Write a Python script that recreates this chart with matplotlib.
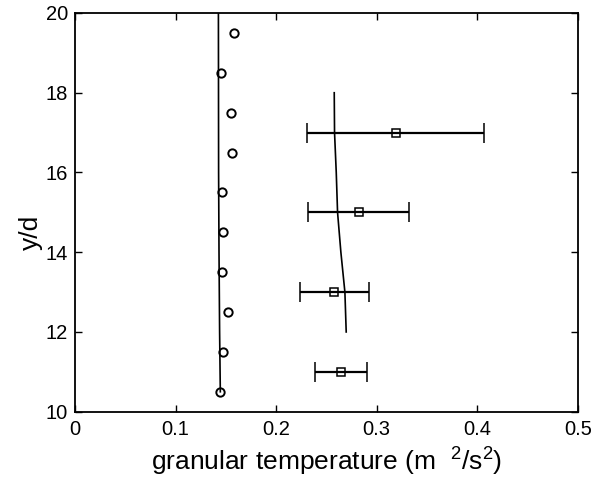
import matplotlib
matplotlib.use("Agg")
import matplotlib.pyplot as plt

plt.rcParams['font.family'] = ['Liberation Sans', 'DejaVu Sans']
plt.rcParams['mathtext.fontset'] = 'custom'
plt.rcParams['mathtext.rm'] = 'Liberation Sans'
plt.rcParams['mathtext.it'] = 'Liberation Sans'

# Circles (simulation points)
circ_y = [19.5, 18.5, 17.5, 16.5, 15.5, 14.5, 13.5, 12.5, 11.5, 10.5]
circ_x = [0.158, 0.145, 0.155, 0.156, 0.146, 0.147, 0.146, 0.152, 0.147, 0.1445]

# Line through circles
line1_y = [20.0, 18.0, 16.0, 14.0, 12.0, 10.5]
line1_x = [0.1426, 0.1427, 0.1428, 0.1432, 0.1438, 0.1445]

# Squares with error bars (experiment)
sq_y = [17, 15, 13, 11]
sq_x = [0.319, 0.282, 0.258, 0.2647]
sq_err = [0.088, 0.050, 0.034, 0.026]

# Model line near squares
line2_y = [18, 17, 16, 15, 14, 13, 12]
line2_x = [0.2578, 0.2581, 0.2598, 0.2611, 0.2644, 0.2684, 0.2697]

xticks = [0, 0.1, 0.2, 0.3, 0.4, 0.5]
xticklabels = ['0', '0.1', '0.2', '0.3', '0.4', '0.5']
yticks = [10, 12, 14, 16, 18, 20]

fig = plt.figure(figsize=(6.05, 4.83), dpi=100)
ax = fig.add_axes([0.124, 0.1476, 0.831, 0.8255])

ax.plot(line1_x, line1_y, color='black', lw=1.2)
ax.plot(circ_x, circ_y, linestyle='none', marker='o', markersize=6,
        markerfacecolor='none', markeredgecolor='black', markeredgewidth=1.4)
ax.plot(line2_x, line2_y, color='black', lw=1.2)
ax.errorbar(sq_x, sq_y, xerr=sq_err, fmt='s', markersize=5.5,
            markerfacecolor='none', markeredgecolor='black', markeredgewidth=1.1,
            ecolor='black', elinewidth=1.6, capsize=7, capthick=1.6)

ax.set_xlim(0, 0.5)
ax.set_ylim(10, 20)
ax.set_xticks(xticks)
ax.set_xticklabels(xticklabels)
ax.set_yticks(yticks)
ax.tick_params(direction='in', top=True, right=True, length=5, width=1,
               labelsize=14.5)
ax.tick_params(axis='x', pad=6)
ax.tick_params(axis='y', pad=5)
for s in ax.spines.values():
    s.set_linewidth(1.3)

ax.set_xlabel('granular temperature (m  $^{2}$/s$^{2}$)', fontsize=19, labelpad=5)
ax.set_ylabel('y/d', fontsize=19, labelpad=2)
ax.yaxis.label.set_y(0.45)

fig.savefig('out.png', dpi=100)
